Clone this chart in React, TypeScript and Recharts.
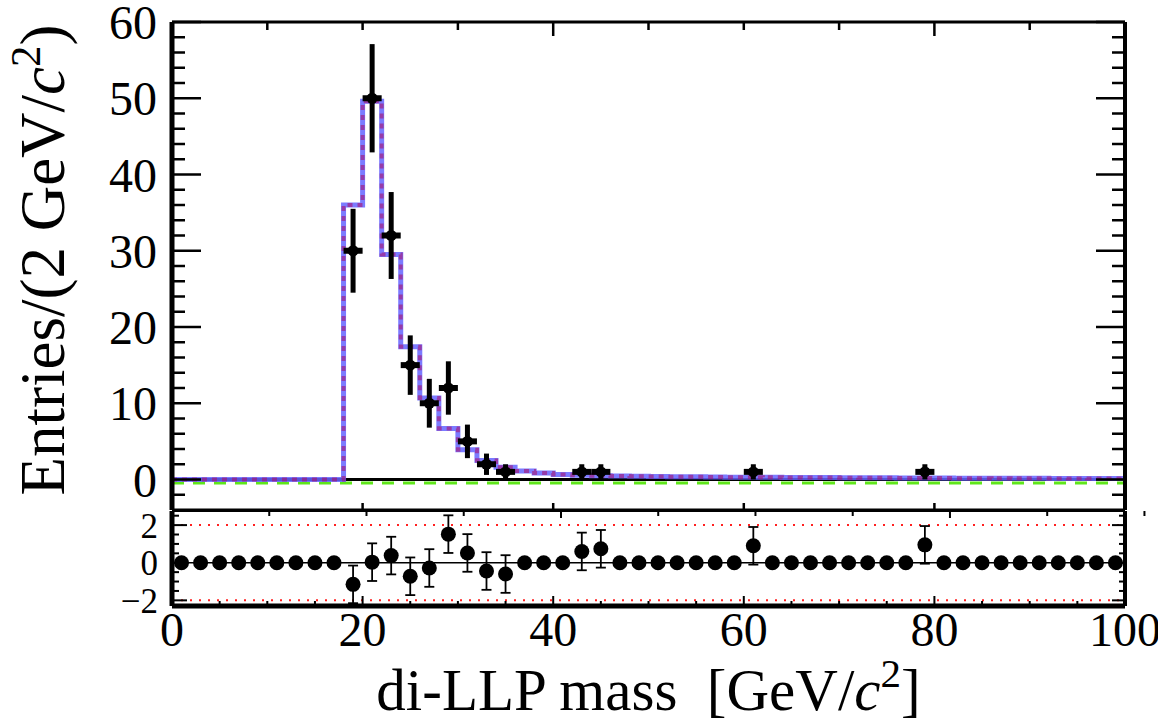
import React from "react";
import {
  ComposedChart,
  Line,
  Scatter,
  XAxis,
  YAxis,
  ErrorBar,
  ReferenceLine,
  Label,
} from "recharts";

const FONT = '"Liberation Serif", "Times New Roman", serif';
const W = 1158;

// 2 GeV bins, centres in GeV
const binCenters = [
  1, 3, 5, 7, 9, 11, 13, 15, 17, 19, 21, 23, 25, 27, 29, 31, 33, 35, 37, 39,
  41, 43, 45, 47, 49, 51, 53, 55, 57, 59, 61, 63, 65, 67, 69, 71, 73, 75, 77, 79,
  81, 83, 85, 87, 89, 91, 93, 95, 97, 99,
];

// observed entries per bin
const dataCounts = [
  0, 0, 0, 0, 0, 0, 0, 0, 0, 30, 50, 32, 15, 10, 12, 5, 2, 1, 0, 0,
  0, 1, 1, 0, 0, 0, 0, 0, 0, 0, 1, 0, 0, 0, 0, 0, 0, 0, 0, 1,
  0, 0, 0, 0, 0, 0, 0, 0, 0, 0,
];

// vertical errors of the non-empty bins, in order
const pointErrors = [5.5, 7.1, 5.7, 3.9, 3.2, 3.5, 2.2, 1.4, 1, 1, 1, 1, 1];
const binHalfWidth = 1;

// fit model, per bin
const fitCurve = [
  0, 0, 0, 0, 0, 0, 0, 0, 0, 36.0, 49.6, 29.5, 17.4, 10.7, 6.7, 3.9, 2.5, 1.6,
  1.1, 0.85, 0.65, 0.55, 0.5, 0.45, 0.42, 0.4, 0.37, 0.35, 0.33, 0.31, 0.3, 0.29,
  0.27, 0.26, 0.25, 0.24, 0.23, 0.22, 0.21, 0.2, 0.19, 0.18, 0.17, 0.16, 0.15,
  0.15, 0.14, 0.13, 0.12, 0.12,
];
const bkgLevel = -0.45;

// pulls per bin
const pullValues = [
  0, 0, 0, 0, 0, 0, 0, 0, 0, -1.15, 0.03, 0.38, -0.72, -0.28, 1.52, 0.52, -0.44, -0.6,
  0, 0, 0, 0.6, 0.74, 0, 0, 0, 0, 0, 0, 0, 0.9, 0, 0, 0, 0, 0, 0, 0, 0, 0.95,
  0, 0, 0, 0, 0, 0, 0, 0, 0, 0,
];

const range = (a: number, b: number, s: number) => {
  const out: number[] = [];
  for (let v = a; v <= b + 1e-9; v += s) out.push(+v.toFixed(3));
  return out;
};

const xMajorTicks = [0, 20, 40, 60, 80, 100];
const xMinorTicks = range(0, 100, 5);
const yMajorTicks = [0, 10, 20, 30, 40, 50, 60];
const yMinorTicks = range(-2, 60, 2);
const pullMajorTicks = [-2, 0, 2];
const pullMinorTicks = range(-2, 2.5, 0.5);

const xDomain = [0, 100];
const mainDomain = [-4, 60];
const pullDomain = [-2.3, 2.75];

const histTable = binCenters
  .map((c, i) => ({ x: c - binHalfWidth, fit: fitCurve[i] }))
  .concat([{ x: 100, fit: fitCurve[fitCurve.length - 1] }]);

const points = binCenters
  .map((c, i) => ({ x: c, y: dataCounts[i] }))
  .filter((p) => p.y > 0)
  .map((p, i) => ({ ...p, ex: binHalfWidth, ey: pointErrors[i] }));

const pulls = binCenters.map((c, i) => ({
  x: c,
  y: pullValues[i],
  err: dataCounts[i] > 0 ? 1 : 0,
}));

const black = (w: number) => ({ stroke: "#000", strokeWidth: w });

type TickSpec = {
  side: "left" | "right" | "top" | "bottom";
  major: number[];
  majorLen: number;
  minorLen: number;
  w: number;
  gap: number;
  fontSize?: number;
  fmt?: (v: number) => string;
};

// ROOT style: tick marks point into the frame, labels outside
function makeTick(s: TickSpec) {
  return (p: any) => {
    const v = p.payload.value;
    const isMajor = s.major.includes(v);
    const len = isMajor ? s.majorLen : s.minorLen;
    const txt = s.fmt ? s.fmt(v) : String(v);
    let line = null;
    let label = null;
    if (s.side === "left") {
      const ax = p.x + s.gap;
      line = <line x1={ax} x2={ax + len} y1={p.y} y2={p.y} stroke="#000" strokeWidth={s.w} />;
      if (s.fontSize && isMajor)
        label = (
          <text x={p.x} y={p.y} dy="0.355em" textAnchor="end" fontFamily={FONT} fontSize={s.fontSize} fill="#000">
            {txt}
          </text>
        );
    } else if (s.side === "right") {
      const ax = p.x - s.gap;
      line = <line x1={ax} x2={ax - len} y1={p.y} y2={p.y} stroke="#000" strokeWidth={s.w} />;
    } else if (s.side === "top") {
      const ay = p.y + s.gap;
      line = <line x1={p.x} x2={p.x} y1={ay} y2={ay + len} stroke="#000" strokeWidth={s.w} />;
    } else {
      const ay = p.y - s.gap;
      line = <line x1={p.x} x2={p.x} y1={ay} y2={ay - len} stroke="#000" strokeWidth={s.w} />;
      if (s.fontSize && isMajor)
        label = (
          <text x={p.x} y={p.y} dy="0.71em" textAnchor="middle" fontFamily={FONT} fontSize={s.fontSize} fill="#000">
            {txt}
          </text>
        );
    }
    return (
      <g>
        {len > 0 && line}
        {label}
      </g>
    );
  };
}

function YTitle(props: any) {
  const { x, y, height } = props.viewBox;
  const cx = x + 64;
  const cy = y + height / 2 - 6;
  return (
    <text
      x={cx}
      y={cy}
      transform={`rotate(-90 ${cx} ${cy})`}
      textAnchor="middle"
      fontFamily={FONT}
      fontSize={63}
      fill="#000"
    >
      Entries/(2 GeV/<tspan fontStyle="italic">c</tspan>
      <tspan dy={-24} fontSize={43}>2</tspan>
      <tspan dy={24}>)</tspan>
    </text>
  );
}

function XTitle(props: any) {
  const { x, y, width } = props.viewBox;
  return (
    <text
      x={x + width / 2}
      y={y + 104}
      textAnchor="middle"
      fontFamily={FONT}
      fontSize={59}
      fill="#000"
      style={{ whiteSpace: "pre" }}
    >
      {"di-LLP mass  [GeV/"}
      <tspan fontStyle="italic">c</tspan>
      <tspan dy={-23} fontSize={41}>2</tspan>
      <tspan dy={23}>]</tspan>
    </text>
  );
}

const MainDot = (p: any) => <circle cx={p.cx} cy={p.cy} r={5.5} fill="#000" />;
const PullDot = (p: any) => <circle cx={p.cx} cy={p.cy} r={7.5} fill="#000" />;

const formatPull = (v: number) => (v < 0 ? `\u2212${-v}` : `${v}`);

const mainLeftTick = makeTick({ side: "left", major: yMajorTicks, majorLen: 29, minorLen: 13, w: 2.5, gap: 15, fontSize: 48 });
const mainRightTick = makeTick({ side: "right", major: yMajorTicks, majorLen: 29, minorLen: 13, w: 2.5, gap: 0 });
const mainTopTick = makeTick({ side: "top", major: xMajorTicks, majorLen: 14, minorLen: 8, w: 2.5, gap: 0 });
const mainBottomTick = makeTick({ side: "bottom", major: xMajorTicks, majorLen: 7, minorLen: 0, w: 2.5, gap: 0 });

const pullLeftTick = makeTick({ side: "left", major: pullMajorTicks, majorLen: 15, minorLen: 7, w: 2, gap: 14, fontSize: 35, fmt: formatPull });
const pullRightTick = makeTick({ side: "right", major: pullMajorTicks, majorLen: 13, minorLen: 6, w: 2, gap: 0 });
const pullTopTick = makeTick({ side: "top", major: xMajorTicks, majorLen: 7, minorLen: 5, w: 2, gap: 0 });
const pullBottomTick = makeTick({ side: "bottom", major: xMajorTicks, majorLen: 10, minorLen: 5, w: 2, gap: 6, fontSize: 48 });

export default function App() {
  return (
    <div style={{ position: "absolute", left: 0, top: 0, width: W, height: 726, background: "#fff" }}>
      <div style={{ position: "absolute", left: 0, top: 0 }}>
        <ComposedChart width={W} height={512} data={histTable} margin={{ top: 0, right: 0, bottom: 0, left: 0 }}>
          <XAxis
            xAxisId="b"
            dataKey="x"
            type="number"
            domain={xDomain}
            allowDataOverflow
            orientation="bottom"
            height={2}
            ticks={xMajorTicks}
            interval={0}
            tick={mainBottomTick}
            tickSize={0}
            tickMargin={0}
            tickLine={false}
            axisLine={black(3)}
          />
          <XAxis
            xAxisId="t"
            type="number"
            domain={xDomain}
            allowDataOverflow
            orientation="top"
            height={22}
            ticks={xMinorTicks}
            interval={0}
            tick={mainTopTick}
            tickSize={0}
            tickMargin={0}
            tickLine={false}
            axisLine={black(3)}
          />
          <YAxis
            yAxisId="l"
            type="number"
            domain={mainDomain}
            allowDataOverflow
            ticks={yMinorTicks}
            interval={0}
            width={172}
            tickSize={0}
            tickMargin={15}
            tickLine={false}
            tick={mainLeftTick}
            axisLine={black(5)}
          >
            <Label content={YTitle} />
          </YAxis>
          <YAxis
            yAxisId="r"
            orientation="right"
            type="number"
            domain={mainDomain}
            allowDataOverflow
            ticks={yMinorTicks}
            interval={0}
            width={33}
            tickSize={0}
            tickMargin={0}
            tickLine={false}
            tick={mainRightTick}
            axisLine={black(4)}
          />

          <ReferenceLine xAxisId="b" yAxisId="l" y={bkgLevel} stroke="#5fe61a" strokeWidth={3} strokeDasharray="12 9" />
          <ReferenceLine xAxisId="b" yAxisId="l" y={0} stroke="#000" strokeWidth={3} />
          <Line
            xAxisId="b"
            yAxisId="l"
            dataKey="fit"
            type="stepAfter"
            stroke="#6464ff"
            strokeOpacity={0.85}
            strokeWidth={5}
            dot={false}
            activeDot={false}
            isAnimationActive={false}
          />
          <Line
            xAxisId="b"
            yAxisId="l"
            dataKey="fit"
            type="stepAfter"
            stroke="#a81070"
            strokeOpacity={0.6}
            strokeWidth={4}
            strokeDasharray="5 5"
            dot={false}
            activeDot={false}
            isAnimationActive={false}
          />
          <Scatter
            xAxisId="b"
            yAxisId="l"
            data={points}
            dataKey="y"
            shape={MainDot}
            isAnimationActive={false}
          >
            <ErrorBar dataKey="ey" direction="y" width={0} stroke="#000" strokeWidth={5} />
            <ErrorBar dataKey="ex" direction="x" width={0} stroke="#000" strokeWidth={6} />
          </Scatter>
        </ComposedChart>
      </div>

      <div style={{ position: "absolute", left: 0, top: 508 }}>
        <ComposedChart width={W} height={218} data={pulls} margin={{ top: 0, right: 0, bottom: 0, left: 0 }}>
          <XAxis
            xAxisId="b"
            dataKey="x"
            type="number"
            domain={xDomain}
            allowDataOverflow
            orientation="bottom"
            height={120}
            ticks={xMinorTicks}
            interval={0}
            tick={pullBottomTick}
            tickSize={0}
            tickMargin={6}
            tickLine={false}
            axisLine={black(5)}
          >
            <Label content={XTitle} />
          </XAxis>
          <XAxis
            xAxisId="t"
            type="number"
            domain={xDomain}
            allowDataOverflow
            orientation="top"
            height={3}
            ticks={xMinorTicks}
            interval={0}
            tick={pullTopTick}
            tickSize={0}
            tickMargin={0}
            tickLine={false}
            axisLine={black(2)}
          />
          <YAxis
            yAxisId="l"
            type="number"
            domain={pullDomain}
            allowDataOverflow
            ticks={pullMinorTicks}
            interval={0}
            width={172}
            tickSize={0}
            tickMargin={14}
            tickLine={false}
            tick={pullLeftTick}
            axisLine={black(5)}
          />
          <YAxis
            yAxisId="r"
            orientation="right"
            type="number"
            domain={pullDomain}
            allowDataOverflow
            ticks={pullMinorTicks}
            interval={0}
            width={33}
            tickSize={0}
            tickMargin={0}
            tickLine={false}
            tick={pullRightTick}
            axisLine={black(4)}
          />

          <ReferenceLine xAxisId="b" yAxisId="l" y={2} stroke="#ff2020" strokeWidth={2} strokeDasharray="2 7" />
          <ReferenceLine xAxisId="b" yAxisId="l" y={-2} stroke="#ff2020" strokeWidth={2} strokeDasharray="2 7" />
          <ReferenceLine xAxisId="b" yAxisId="l" y={0} stroke="#000" strokeWidth={1.5} />
          <Scatter
            xAxisId="b"
            yAxisId="l"
            data={pulls}
            dataKey="y"
            shape={PullDot}
            isAnimationActive={false}
          >
            <ErrorBar dataKey="err" direction="y" width={5} stroke="#000" strokeWidth={1.8} />
          </Scatter>
        </ComposedChart>
      </div>
    </div>
  );
}
